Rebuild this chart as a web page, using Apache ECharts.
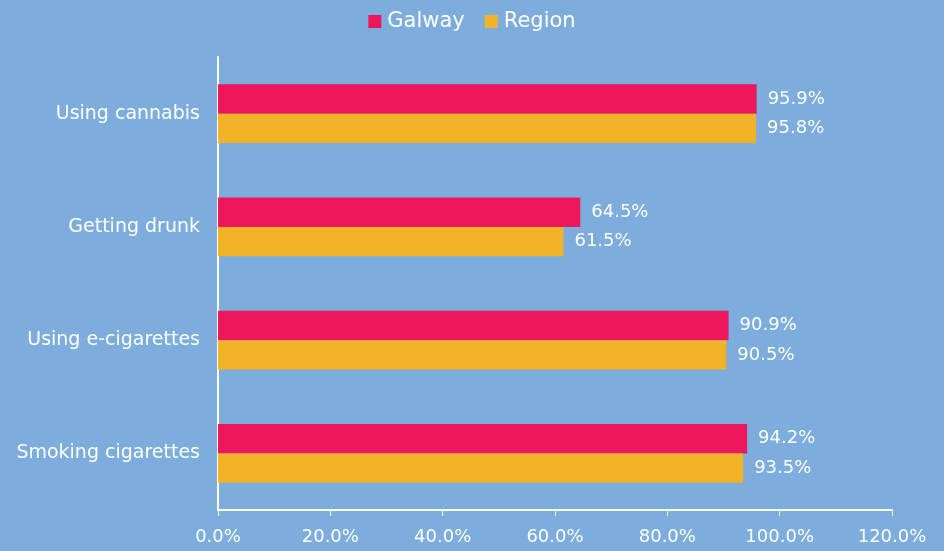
<!DOCTYPE html>
<html>
<head>
<meta charset="utf-8">
<script src="https://cdn.jsdelivr.net/npm/echarts@6/dist/echarts.min.js"></script>
<style>
html,body{margin:0;padding:0;background:#7CADDC;}
#c{width:944px;height:551px;}
</style>
</head>
<body>
<div id="c"></div>
<script>
const categories = ['Using cannabis', 'Getting drunk', 'Using e-cigarettes', 'Smoking cigarettes'];
const galway = [95.9, 64.5, 90.9, 94.2];
const region = [95.8, 61.5, 90.5, 93.5];
const xTicks = [0, 20, 40, 60, 80, 100, 120];

const font = 'DejaVu Sans';
const chart = echarts.init(document.getElementById('c'));
chart.setOption({
  backgroundColor: '#7CADDC',
  animation: false,
  textStyle: {fontFamily: font},
  legend: {
    top: 6, left: 'center',
    itemWidth: 13, itemHeight: 13, itemGap: 20,
    icon: 'rect',
    textStyle: {color: '#fff', fontSize: 21, fontFamily: font, padding: [0,0,0,1]},
    data: ['Galway', 'Region']
  },
  grid: {left: 218, right: 52, top: 57, bottom: 41, containLabel: false},
  xAxis: {
    type: 'value', min: xTicks[0], max: xTicks[xTicks.length-1], interval: 20,
    axisLine: {show: true, lineStyle: {color: '#fff', width: 2}},
    axisTick: {show: true, length: 6, lineStyle: {color: '#fff', width: 1}},
    splitLine: {show: false},
    axisLabel: {color: '#fff', fontSize: 18, fontFamily: font, margin: 18,
      formatter: v => v.toFixed(1) + '%'}
  },
  yAxis: {
    type: 'category', data: categories, inverse: true,
    axisLine: {show: true, lineStyle: {color: '#fff', width: 2}},
    axisTick: {show: false},
    axisLabel: {color: '#fff', fontSize: 19, fontFamily: font, margin: 18}
  },
  series: [
    {name: 'Galway', type: 'bar', data: galway, barGap: '0%', barCategoryGap: '48%',
     itemStyle: {color: '#EE175B'},
     label: {show: true, position: 'right', distance: 11, color: '#fff', fontSize: 18, fontFamily: font,
       formatter: p => p.value.toFixed(1) + '%'}},
    {name: 'Region', type: 'bar', data: region, barGap: '0%', barCategoryGap: '48%',
     itemStyle: {color: '#F2B328'},
     label: {show: true, position: 'right', distance: 11, color: '#fff', fontSize: 18, fontFamily: font,
       formatter: p => p.value.toFixed(1) + '%'}}
  ]
});
</script>
</body>
</html>
